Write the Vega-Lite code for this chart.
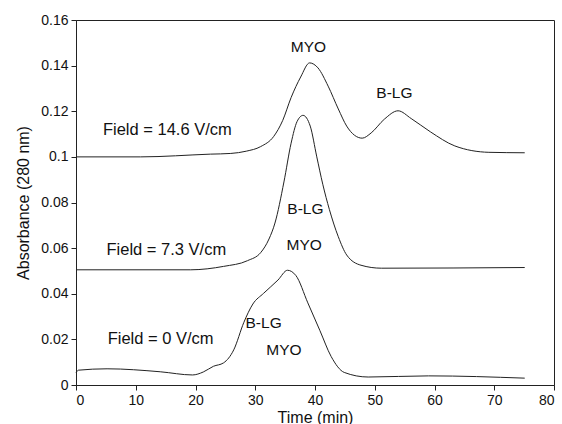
{
  "$schema": "https://vega.github.io/schema/vega-lite/v6.json",
  "width": 478,
  "height": 365,
  "autosize": {"type": "none"},
  "padding": {"left": 76, "top": 20, "right": 8, "bottom": 39},
  "background": "white",
  "config": {
    "font": "Liberation Sans",
    "view": {"stroke": "#222", "strokeWidth": 1},
    "axis": {"grid": false, "domainColor": "#222", "tickColor": "#222", "labelColor": "#111", "titleColor": "#111", "labelFontSize": 14, "titleFontSize": 16, "titleFontWeight": "normal", "tickSize": 5, "labelFont": "Liberation Sans", "titleFont": "Liberation Sans"}
  },
  "layer": [
    {
      "data": {"values": [
        {"series": "14.6", "t": 0, "a": 0.1},
        {"series": "14.6", "t": 10.8, "a": 0.1},
        {"series": "14.6", "t": 22.5, "a": 0.1012},
        {"series": "14.6", "t": 25.9, "a": 0.1015},
        {"series": "14.6", "t": 28.5, "a": 0.1025},
        {"series": "14.6", "t": 30.9, "a": 0.1045},
        {"series": "14.6", "t": 33.1, "a": 0.109},
        {"series": "14.6", "t": 34.6, "a": 0.116},
        {"series": "14.6", "t": 36.0, "a": 0.126},
        {"series": "14.6", "t": 37.6, "a": 0.135},
        {"series": "14.6", "t": 39.1, "a": 0.1412},
        {"series": "14.6", "t": 40.5, "a": 0.139},
        {"series": "14.6", "t": 42.2, "a": 0.131},
        {"series": "14.6", "t": 43.9, "a": 0.121},
        {"series": "14.6", "t": 45.3, "a": 0.1135},
        {"series": "14.6", "t": 46.6, "a": 0.1095},
        {"series": "14.6", "t": 47.9, "a": 0.1082},
        {"series": "14.6", "t": 49.4, "a": 0.1105},
        {"series": "14.6", "t": 51.6, "a": 0.1165},
        {"series": "14.6", "t": 53.9, "a": 0.1202},
        {"series": "14.6", "t": 56.1, "a": 0.1168},
        {"series": "14.6", "t": 59.3, "a": 0.111},
        {"series": "14.6", "t": 63.4, "a": 0.1048},
        {"series": "14.6", "t": 69.1, "a": 0.102},
        {"series": "14.6", "t": 75.1, "a": 0.1018},

        {"series": "7.3", "t": 0, "a": 0.0505},
        {"series": "7.3", "t": 19.2, "a": 0.0505},
        {"series": "7.3", "t": 24.7, "a": 0.052},
        {"series": "7.3", "t": 28.7, "a": 0.0545},
        {"series": "7.3", "t": 30.9, "a": 0.058},
        {"series": "7.3", "t": 32.3, "a": 0.064},
        {"series": "7.3", "t": 33.3, "a": 0.071},
        {"series": "7.3", "t": 34.8, "a": 0.089},
        {"series": "7.3", "t": 36.0, "a": 0.106},
        {"series": "7.3", "t": 37.0, "a": 0.1155},
        {"series": "7.3", "t": 38.0, "a": 0.1182},
        {"series": "7.3", "t": 39.2, "a": 0.1135},
        {"series": "7.3", "t": 40.3, "a": 0.1},
        {"series": "7.3", "t": 41.3, "a": 0.088},
        {"series": "7.3", "t": 42.4, "a": 0.077},
        {"series": "7.3", "t": 43.9, "a": 0.065},
        {"series": "7.3", "t": 45.3, "a": 0.057},
        {"series": "7.3", "t": 47.7, "a": 0.0525},
        {"series": "7.3", "t": 51.1, "a": 0.0512},
        {"series": "7.3", "t": 75.1, "a": 0.0515},

        {"series": "0", "t": 0, "a": 0.0053},
        {"series": "0", "t": 0.4, "a": 0.0065},
        {"series": "0", "t": 5.2, "a": 0.0071},
        {"series": "0", "t": 14.1, "a": 0.0058},
        {"series": "0", "t": 19.5, "a": 0.0044},
        {"series": "0", "t": 21.3, "a": 0.0057},
        {"series": "0", "t": 23.0, "a": 0.0082},
        {"series": "0", "t": 24.7, "a": 0.0097},
        {"series": "0", "t": 26.4, "a": 0.0154},
        {"series": "0", "t": 28.1, "a": 0.0275},
        {"series": "0", "t": 29.6, "a": 0.0355},
        {"series": "0", "t": 31.4, "a": 0.0402},
        {"series": "0", "t": 33.8, "a": 0.046},
        {"series": "0", "t": 35.4, "a": 0.0503},
        {"series": "0", "t": 36.8, "a": 0.048},
        {"series": "0", "t": 38.8, "a": 0.036},
        {"series": "0", "t": 40.8, "a": 0.024},
        {"series": "0", "t": 42.7, "a": 0.0125},
        {"series": "0", "t": 44.9, "a": 0.0055},
        {"series": "0", "t": 48.9, "a": 0.0035},
        {"series": "0", "t": 59.0, "a": 0.004},
        {"series": "0", "t": 75.1, "a": 0.003}
      ]},
      "mark": {"type": "line", "color": "#222", "strokeWidth": 1, "interpolate": "monotone"},
      "encoding": {
        "x": {"field": "t", "type": "quantitative", "scale": {"domain": [0, 80], "nice": false}, "axis": {"values": [0, 10, 20, 30, 40, 50, 60, 70, 80], "title": "Time (min)", "titlePadding": 2, "labelPadding": 3}},
        "y": {"field": "a", "type": "quantitative", "scale": {"domain": [0, 0.16], "nice": false}, "axis": {"values": [0, 0.02, 0.04, 0.06, 0.08, 0.1, 0.12, 0.14, 0.16], "format": "~g", "title": "Absorbance (280 nm)", "titlePadding": 9, "labelPadding": 3}},
        "detail": {"field": "series", "type": "nominal"}
      }
    },
    {
      "data": {"values": [
        {"label": "Field = 14.6 V/cm", "t": 4.5, "a": 0.112},
        {"label": "Field = 7.3 V/cm", "t": 5.1, "a": 0.0593},
        {"label": "Field = 0 V/cm", "t": 5.3, "a": 0.0202}
      ]},
      "mark": {"type": "text", "fontSize": 16.5, "color": "#111", "baseline": "middle", "align": "left"},
      "encoding": {
        "x": {"field": "t", "type": "quantitative"},
        "y": {"field": "a", "type": "quantitative"},
        "text": {"field": "label"}
      }
    },
    {
      "data": {"values": [
        {"label": "MYO", "t": 38.9, "a": 0.148},
        {"label": "B-LG", "t": 53.3, "a": 0.128},
        {"label": "B-LG", "t": 38.4, "a": 0.077},
        {"label": "MYO", "t": 38.2, "a": 0.0615},
        {"label": "B-LG", "t": 31.4, "a": 0.0273},
        {"label": "MYO", "t": 34.8, "a": 0.0154}
      ]},
      "mark": {"type": "text", "fontSize": 15.5, "color": "#111", "baseline": "middle", "align": "center"},
      "encoding": {
        "x": {"field": "t", "type": "quantitative"},
        "y": {"field": "a", "type": "quantitative"},
        "text": {"field": "label"}
      }
    }
  ]
}
